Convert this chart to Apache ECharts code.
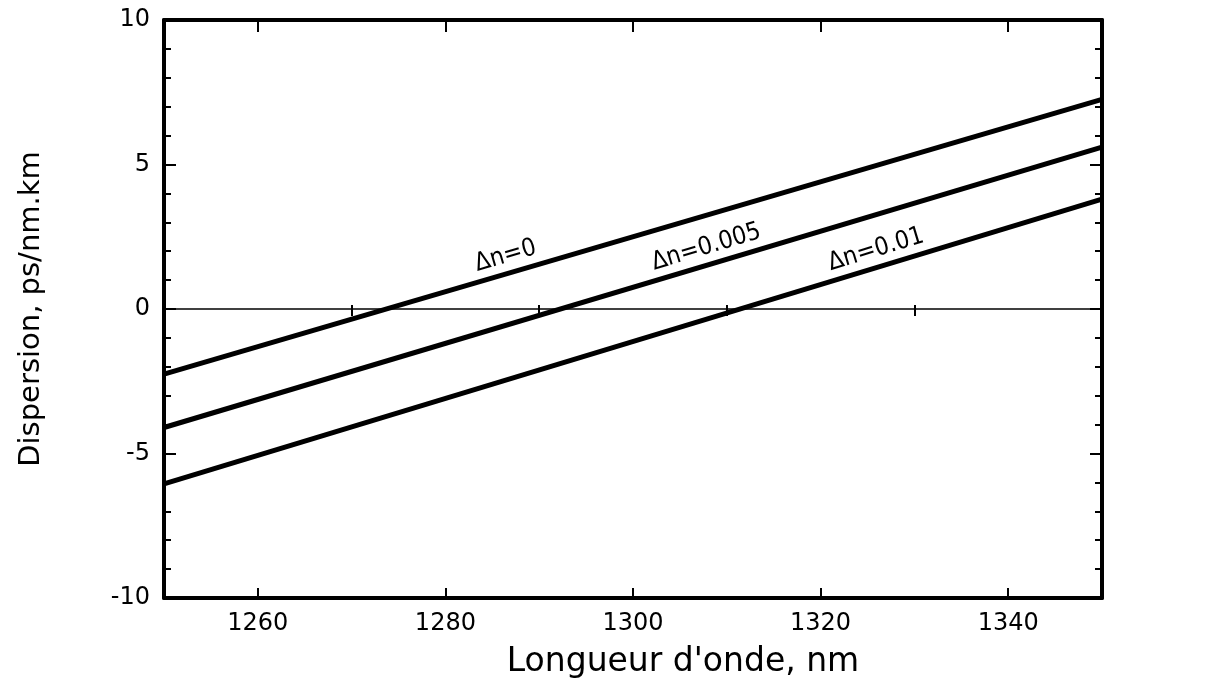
<!DOCTYPE html>
<html>
<head>
<meta charset="utf-8">
<script src="https://cdn.jsdelivr.net/npm/echarts@6/dist/echarts.min.js"></script>
<style>
  html, body { margin: 0; padding: 0; background: #fff; }
  #chart { width: 1220px; height: 696px; }
</style>
</head>
<body>
<div id="chart"></div>
<script>
// Wavelength range (nm) and dispersion (ps/nm.km) at both ends for each index step
const wavelengths = [1250, 1350];
const dispDn0 = [-2.25, 7.25];
const dispDn005 = [-4.1, 5.6];
const dispDn01 = [-6.05, 3.8];
const curveNames = ['\u0394n=0', '\u0394n=0.005', '\u0394n=0.01'];
// Wavelength where each curve's name is written
const labelWavelengths = [1286.8, 1308.2, 1326.3];
const xMajorTicks = [1260, 1280, 1300, 1320, 1340];
const xMinorTicks = [1270, 1290, 1310, 1330];
const zeroLine = [0, 0];

const curves = [dispDn0, dispDn005, dispDn01];
const FONT = 'DejaVu Sans';

function pairs(ys) { return wavelengths.map((x, i) => [x, ys[i]]); }
function valueAt(ys, x) {
  const t = (x - wavelengths[0]) / (wavelengths[1] - wavelengths[0]);
  return ys[0] + t * (ys[1] - ys[0]);
}

const chart = echarts.init(document.getElementById('chart'), null, { renderer: 'canvas' });

const frameLine = { show: true, onZero: false, lineStyle: { color: '#000', width: 4 } };
const plain = v => String(v);

function buildOption(angles) {
  const series = [];
  series.push({
    type: 'line', data: pairs(zeroLine), symbol: 'none', silent: true,
    lineStyle: { color: '#000', width: 1.6 }, z: 2
  });
  curves.forEach((ys, i) => {
    series.push({
      type: 'line', data: pairs(ys), symbol: 'none', silent: true,
      lineStyle: { color: '#000', width: 5 }, z: 3
    });
    series.push({
      type: 'scatter', symbolSize: 0, silent: true, z: 4,
      data: [[labelWavelengths[i], valueAt(ys, labelWavelengths[i])]],
      itemStyle: { color: '#000', opacity: 1 },
      label: {
        show: true, position: 'top', distance: 5,
        rotate: angles[i], formatter: curveNames[i],
        color: '#000', opacity: 1, fontFamily: 'Liberation Sans Narrow, DejaVu Sans Condensed, DejaVu Sans',
        fontSize: 25
      }
    });
  });

  return {
    animation: false,
    backgroundColor: '#fff',
    grid: { left: 164, right: 118, top: 20, bottom: 98 },
    xAxis: [
      {
        type: 'value', min: 1250, max: 1350, position: 'bottom',
        axisLine: frameLine,
        axisTick: { show: true, inside: true, length: 10, customValues: xMajorTicks, lineStyle: { color: '#000', width: 2 } },
        axisLabel: { show: true, customValues: xMajorTicks, formatter: plain, margin: 14, color: '#000', fontFamily: FONT, fontSize: 24 },
        splitLine: { show: false },
        name: "Longueur d'onde, nm", nameLocation: 'middle', nameGap: 48,
        nameTextStyle: { color: '#000', fontFamily: FONT, fontSize: 33, padding: [0, 0, 0, 100] }
      },
      {
        type: 'value', min: 1250, max: 1350, position: 'bottom',
        axisLine: { show: false },
        axisTick: { show: true, inside: true, length: 4, customValues: xMinorTicks, lineStyle: { color: '#000', width: 2 } },
        axisLabel: { show: false }, splitLine: { show: false }
      },
      {
        type: 'value', min: 1250, max: 1350, position: 'top',
        axisLine: frameLine,
        axisTick: { show: true, inside: true, length: 12, customValues: xMajorTicks, lineStyle: { color: '#000', width: 2 } },
        axisLabel: { show: false }, splitLine: { show: false }
      },
      {
        type: 'value', min: 1250, max: 1350, position: 'top',
        axisLine: { show: false },
        axisTick: { show: true, inside: true, length: 7, customValues: xMinorTicks, lineStyle: { color: '#000', width: 2 } },
        axisLabel: { show: false }, splitLine: { show: false }
      }
    ],
    yAxis: [
      {
        type: 'value', min: -10, max: 10, interval: 5, position: 'left',
        axisLine: frameLine,
        axisTick: { show: true, inside: true, length: 12, lineStyle: { color: '#000', width: 2 } },
        minorTick: { show: true, splitNumber: 5, length: 7, lineStyle: { color: '#000', width: 2 } },
        axisLabel: { show: true, formatter: plain, margin: 14, color: '#000', fontFamily: FONT, fontSize: 24 },
        splitLine: { show: false }, minorSplitLine: { show: false },
        name: 'Dispersion, ps/nm.km', nameLocation: 'middle', nameGap: 118,
        nameTextStyle: { color: '#000', fontFamily: FONT, fontSize: 29 }
      },
      {
        type: 'value', min: -10, max: 10, interval: 5, position: 'right',
        axisLine: frameLine,
        axisTick: { show: true, inside: true, length: 12, lineStyle: { color: '#000', width: 2 } },
        minorTick: { show: true, splitNumber: 5, length: 7, lineStyle: { color: '#000', width: 2 } },
        axisLabel: { show: false },
        splitLine: { show: false }, minorSplitLine: { show: false }
      }
    ],
    series: series
  };
}

chart.setOption(buildOption([15, 15, 15]));

// Tilt each curve name to follow its line on screen
const angles = curves.map(ys => {
  const p0 = chart.convertToPixel({ xAxisIndex: 0, yAxisIndex: 0 }, [wavelengths[0], ys[0]]);
  const p1 = chart.convertToPixel({ xAxisIndex: 0, yAxisIndex: 0 }, [wavelengths[1], ys[1]]);
  return Math.atan2(p0[1] - p1[1], p1[0] - p0[0]) * 180 / Math.PI;
});
chart.setOption(buildOption(angles), true);
</script>
</body>
</html>
